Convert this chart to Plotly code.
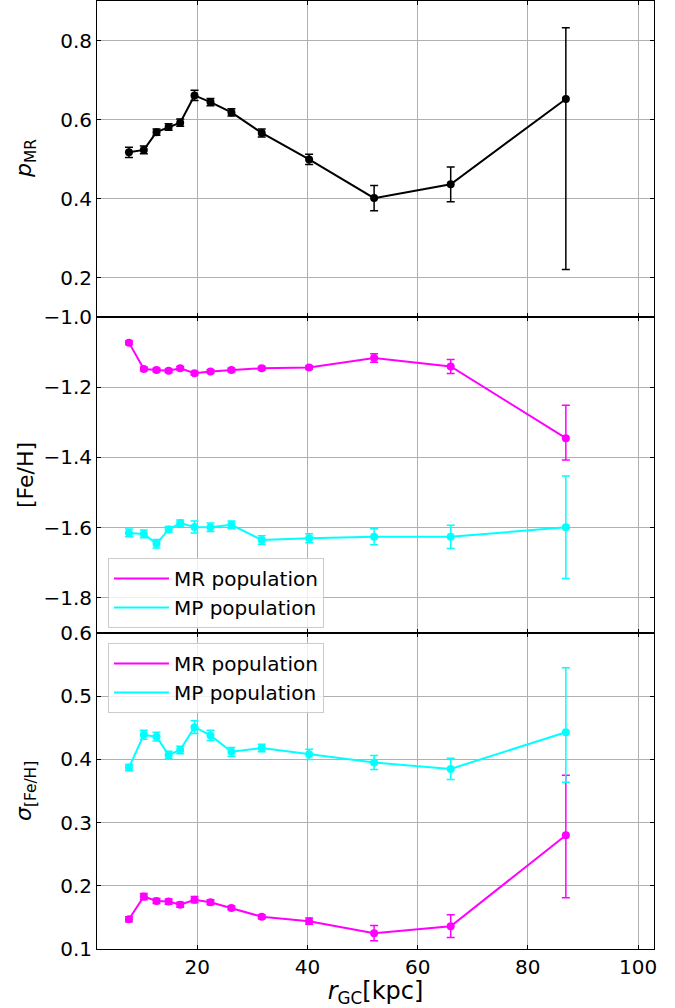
import plotly.graph_objects as go
from plotly.subplots import make_subplots

# ---------------- data ----------------
r_gc = [7.6, 10.3, 12.6, 14.8, 16.9, 19.5, 22.4, 26.2, 31.7, 40.3, 52.1, 66.0, 86.9]

p_mr = [0.517, 0.523, 0.568, 0.581, 0.592, 0.661, 0.644, 0.618, 0.566, 0.499, 0.401, 0.436, 0.652]
p_mr_err_up = [0.013, 0.010, 0.008, 0.008, 0.009, 0.013, 0.009, 0.009, 0.010, 0.013, 0.032, 0.044, 0.180]
p_mr_err_lo = [0.013, 0.010, 0.008, 0.008, 0.009, 0.013, 0.009, 0.009, 0.010, 0.013, 0.032, 0.044, 0.432]

feh_mr = [-1.073, -1.148, -1.151, -1.153, -1.146, -1.160, -1.155, -1.151, -1.146, -1.144, -1.117, -1.141, -1.345]
feh_mr_err_up = [0.005, 0.005, 0.005, 0.005, 0.005, 0.005, 0.005, 0.005, 0.005, 0.005, 0.012, 0.020, 0.094]
feh_mr_err_lo = [0.005, 0.005, 0.005, 0.005, 0.005, 0.005, 0.005, 0.005, 0.005, 0.005, 0.012, 0.020, 0.062]

feh_mp = [-1.615, -1.618, -1.646, -1.605, -1.587, -1.598, -1.599, -1.592, -1.635, -1.630, -1.626, -1.626, -1.599]
feh_mp_err = [0.011, 0.011, 0.012, 0.008, 0.009, 0.017, 0.012, 0.011, 0.012, 0.013, 0.023, 0.033, 0.146]

sig_mr = [0.147, 0.183, 0.176, 0.175, 0.170, 0.178, 0.174, 0.165, 0.151, 0.144, 0.125, 0.136, 0.280]
sig_mr_err_up = [0.004, 0.005, 0.004, 0.004, 0.004, 0.005, 0.004, 0.003, 0.003, 0.005, 0.012, 0.018, 0.095]
sig_mr_err_lo = [0.004, 0.005, 0.004, 0.004, 0.004, 0.005, 0.004, 0.003, 0.003, 0.005, 0.012, 0.018, 0.099]

sig_mp = [0.387, 0.439, 0.436, 0.407, 0.415, 0.451, 0.438, 0.412, 0.418, 0.408, 0.395, 0.385, 0.443]
sig_mp_err_up = [0.005, 0.007, 0.007, 0.006, 0.006, 0.010, 0.008, 0.007, 0.006, 0.008, 0.011, 0.017, 0.102]
sig_mp_err_lo = [0.005, 0.007, 0.007, 0.006, 0.006, 0.010, 0.008, 0.007, 0.006, 0.008, 0.011, 0.017, 0.079]

x_ticks = [20, 40, 60, 80, 100]
p_ticks = [0.2, 0.4, 0.6, 0.8]
feh_ticks = [-1.8, -1.6, -1.4, -1.2, -1.0]
sig_ticks = [0.1, 0.2, 0.3, 0.4, 0.5, 0.6]

labels = ["MR population", "MP population"]

BLACK = "#000000"
MAG = "#FF00FF"
CYAN = "#00FFFF"
FONT = "DejaVu Sans"

fig = make_subplots(rows=3, cols=1, shared_xaxes=True, vertical_spacing=0)


def add_series(y, up, lo, color, row):
    fig.add_trace(go.Scatter(
        x=r_gc, y=y, mode="lines+markers",
        line=dict(color=color, width=2),
        marker=dict(color=color, size=8),
        error_y=dict(type="data", symmetric=False, array=up, arrayminus=lo,
                     color=color, thickness=1.5, width=4),
        showlegend=False, hoverinfo="x+y"), row=row, col=1)


add_series(p_mr, p_mr_err_up, p_mr_err_lo, BLACK, 1)
add_series(feh_mr, feh_mr_err_up, feh_mr_err_lo, MAG, 2)
add_series(feh_mp, feh_mp_err, feh_mp_err, CYAN, 2)
add_series(sig_mr, sig_mr_err_up, sig_mr_err_lo, MAG, 3)
add_series(sig_mp, sig_mp_err_up, sig_mp_err_lo, CYAN, 3)

# legend-only line entries
for lg, row in (("legend", 2), ("legend2", 3)):
    for lab, col in zip(labels, (MAG, CYAN)):
        fig.add_trace(go.Scatter(x=[None], y=[None], mode="lines",
                                 line=dict(color=col, width=2), name=lab,
                                 legend=lg, showlegend=True), row=row, col=1)

axis_common = dict(showline=True, linecolor="black", linewidth=1, mirror="ticks",
                   ticks="inside", ticklen=4, tickwidth=1.2, tickcolor="black",
                   showgrid=True, gridcolor="#b0b0b0", gridwidth=1, zeroline=False,
                   tickfont=dict(family=FONT, size=20, color="black"))

for i in (1, 2, 3):
    fig.update_xaxes(range=[1.8, 102.9], tickvals=x_ticks, showticklabels=(i == 3),
                     row=i, col=1, **axis_common)

fig.update_yaxes(range=[0.1, 0.9], tickvals=p_ticks, tickformat=".1f", row=1, col=1, **axis_common)
fig.update_yaxes(range=[-1.9, -1.0], tickvals=feh_ticks, tickformat=".1f", row=2, col=1, **axis_common)
fig.update_yaxes(range=[0.1, 0.6], tickvals=sig_ticks, tickformat=".1f", row=3, col=1, **axis_common)

fig.update_xaxes(title=dict(text="<i>r</i><sub>GC</sub>[kpc]",
                            font=dict(family=FONT, size=24, color="black"), standoff=4),
                 row=3, col=1)

# y-axis titles as annotations (aligned like the reference)
ytitles = [("<i>p</i><sub>MR</sub>", "y domain"),
           ("[Fe/H]", "y2 domain"),
           ("<i>σ</i><sub>[Fe/H]</sub>", "y3 domain")]
for txt, yref in ytitles:
    fig.add_annotation(text=txt, xref="paper", yref=yref, x=0, y=0.5,
                       xanchor="center", yanchor="middle", xshift=-72,
                       textangle=-90, showarrow=False,
                       font=dict(family=FONT, size=22, color="black"))

legend_common = dict(bgcolor="rgba(255,255,255,0.8)", bordercolor="#cccccc", borderwidth=1,
                     font=dict(family=FONT, size=20, color="black"),
                     xanchor="left", yanchor="top", tracegroupgap=0, itemwidth=55)

fig.update_layout(
    width=675, height=1008,
    margin=dict(l=97, r=21, t=1, b=59, autoexpand=False),
    plot_bgcolor="white", paper_bgcolor="white",
    font=dict(family=FONT, color="black"),
    legend=dict(x=0.0197, y=0.4124, **legend_common),
    legend2=dict(x=0.0197, y=0.3228, **legend_common),
)

fig.write_html("out.html")
